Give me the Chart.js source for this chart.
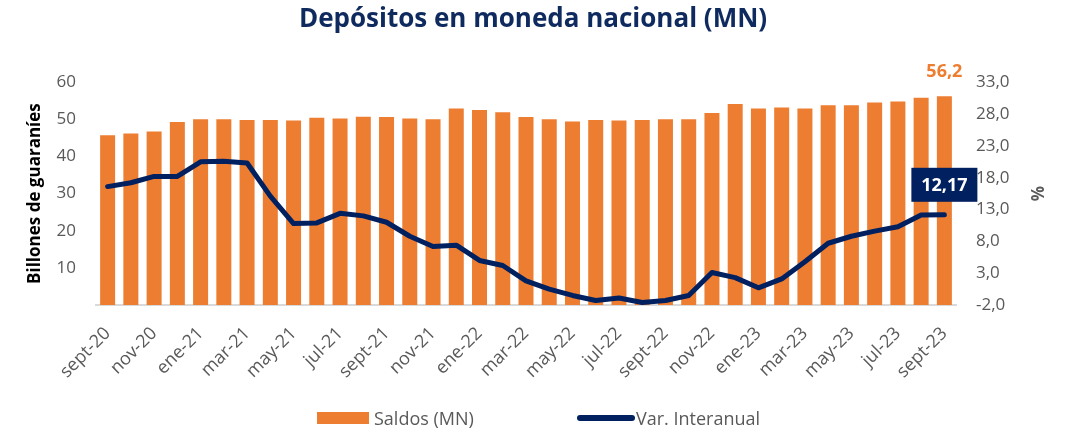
<!DOCTYPE html>
<html lang="es">
<head>
<meta charset="utf-8">
<title>Depósitos en moneda nacional (MN)</title>
<script src="https://cdn.jsdelivr.net/npm/chart.js@4/dist/chart.umd.min.js"></script>
<style>
  html, body { margin: 0; padding: 0; background: #ffffff; }
  #wrap { position: relative; width: 1066px; height: 432px; overflow: hidden; }
  #grafico { position: absolute; left: 0; top: 0; }
  .ley { position: absolute; font-family: "Open Sans", sans-serif; font-size: 18px; color: #595959; line-height: 24px; white-space: nowrap; }
  .sw-bar { position: absolute; left: 317px; top: 412px; width: 52px; height: 12px; background: #ED7D31; }
  .sw-lin { position: absolute; left: 577px; top: 415px; width: 58px; height: 6px; border-radius: 3px; background: #002060; }
</style>
</head>
<body>
<div id="wrap">
  <canvas id="grafico" width="1066" height="432"></canvas>
  <div class="sw-bar"></div><div class="ley" style="left:374px;top:406px;">Saldos (MN)</div>
  <div class="sw-lin"></div><div class="ley" style="left:636px;top:406px;">Var. Interanual</div>
</div>
<script>
// Meses (sept-20 a sept-23)
const categorias = [
  'sept-20','oct-20','nov-20','dic-20',
  'ene-21','feb-21','mar-21','abr-21','may-21','jun-21','jul-21','ago-21','sept-21','oct-21','nov-21','dic-21',
  'ene-22','feb-22','mar-22','abr-22','may-22','jun-22','jul-22','ago-22','sept-22','oct-22','nov-22','dic-22',
  'ene-23','feb-23','mar-23','abr-23','may-23','jun-23','jul-23','ago-23','sept-23'
];

// Saldos en billones de guaraníes
const saldosMN = [
  45.7, 46.2, 46.7, 49.3,
  50.0, 50.0, 49.8, 49.8, 49.7, 50.4, 50.2, 50.7, 50.6, 50.2, 50.0, 52.9,
  52.5, 51.9, 50.6, 50.0, 49.4, 49.8, 49.7, 49.8, 50.0, 50.0, 51.7, 54.1,
  52.9, 53.2, 52.9, 53.8, 53.8, 54.5, 54.8, 55.8, 56.2
];

// Variación interanual (%)
const varInteranual = [
  16.6, 17.2, 18.2, 18.2,
  20.5, 20.6, 20.3, 15.1, 10.8, 10.9, 12.4, 12.0, 11.0, 8.8, 7.2, 7.4,
  5.0, 4.2, 1.8, 0.5, -0.5, -1.3, -0.9, -1.6, -1.3, -0.5, 3.1, 2.3,
  0.7, 2.1, 4.8, 7.7, 8.8, 9.6, 10.3, 12.15, 12.17
];

// Escalas
const ejeIzq = { min: 0, max: 60, paso: 10 };
const ejeDer = { min: -2, max: 33, paso: 5 };

const NARANJA = '#ED7D31';
const AZUL = '#002060';
const GRIS = '#595959';
const FUENTE = '"Open Sans", sans-serif';

const coma = (v, d) => v.toFixed(d).replace('.', ',');

// Etiquetas de valor del último mes
const etiquetas = {
  id: 'etiquetas',
  afterDatasetsDraw(chart) {
    const ctx = chart.ctx;
    const ult = categorias.length - 1;
    const barra = chart.getDatasetMeta(0).data[ult];
    const punto = chart.getDatasetMeta(1).data[ult];
    ctx.save();
    ctx.textAlign = 'center';
    ctx.textBaseline = 'middle';
    ctx.font = 'bold 18px ' + FUENTE;
    ctx.fillStyle = NARANJA;
    ctx.fillText(coma(saldosMN[ult], 1), barra.x, barra.y - 24);

    const cy = punto.y - 30;
    ctx.fillStyle = AZUL;
    ctx.fillRect(punto.x - 33, cy - 17, 66, 34);
    ctx.fillStyle = '#ffffff';
    ctx.fillText(coma(varInteranual[ult], 2), punto.x, cy + 1);
    ctx.restore();
  }
};

new Chart(document.getElementById('grafico'), {
  data: {
    labels: categorias,
    datasets: [
      {
        type: 'bar',
        label: 'Saldos (MN)',
        data: saldosMN,
        backgroundColor: NARANJA,
        borderWidth: 0,
        barPercentage: 0.645,
        categoryPercentage: 1,
        yAxisID: 'y',
        order: 2
      },
      {
        type: 'line',
        label: 'Var. Interanual',
        data: varInteranual,
        borderColor: AZUL,
        backgroundColor: AZUL,
        borderWidth: 5,
        borderCapStyle: 'round',
        borderJoinStyle: 'round',
        pointRadius: 0,
        pointHoverRadius: 0,
        tension: 0,
        yAxisID: 'y1',
        order: 1
      }
    ]
  },
  options: {
    responsive: false,
    animation: false,
    events: [],
    layout: { padding: { top: 0, bottom: 0, left: 0, right: 0 } },
    plugins: {
      legend: { display: false },
      tooltip: { enabled: false },
      title: {
        display: true,
        text: 'Depósitos en moneda nacional (MN)',
        color: '#0F2A5E',
        font: { family: FUENTE, size: 26, weight: 'bold', lineHeight: 1.2 },
        padding: { top: 4, bottom: 47 }
      }
    },
    scales: {
      x: {
        grid: { display: false, drawTicks: false },
        border: { display: true, color: '#D9D9D9', width: 2 },
        ticks: {
          autoSkip: false,
          maxRotation: 45,
          minRotation: 45,
          padding: 18,
          color: GRIS,
          font: { family: FUENTE, size: 18 },
          callback: (v, i) => (i % 2 === 0 ? categorias[i] : '')
        },
        afterFit: (s) => { s.height = 127; }
      },
      y: {
        position: 'left',
        min: ejeIzq.min,
        max: ejeIzq.max,
        grid: { display: false, drawTicks: false },
        border: { display: false },
        ticks: {
          stepSize: ejeIzq.paso,
          padding: 20,
          color: GRIS,
          font: { family: FUENTE, size: 17 },
          callback: (v) => (v === 0 ? '' : String(v))
        },
        title: {
          display: true,
          text: 'Billones de guaraníes',
          color: '#000000',
          font: { family: FUENTE, size: 17, weight: 'bold', lineHeight: 1.2 },
          padding: { top: 25, bottom: 0 }
        },
        afterFit: (s) => { s.width = 96; }
      },
      y1: {
        position: 'right',
        min: ejeDer.min,
        max: ejeDer.max,
        grid: { display: false, drawTicks: false },
        border: { display: false },
        ticks: {
          stepSize: ejeDer.paso,
          padding: 20,
          color: GRIS,
          font: { family: FUENTE, size: 17 },
          callback: (v) => coma(v, 1)
        },
        title: {
          display: true,
          text: '%',
          color: GRIS,
          font: { family: FUENTE, size: 17, weight: 'bold', lineHeight: 1.2 },
          padding: { top: 20, bottom: 0 }
        },
        afterFit: (s) => { s.width = 110; }
      }
    }
  },
  plugins: [etiquetas]
});
</script>
</body>
</html>
